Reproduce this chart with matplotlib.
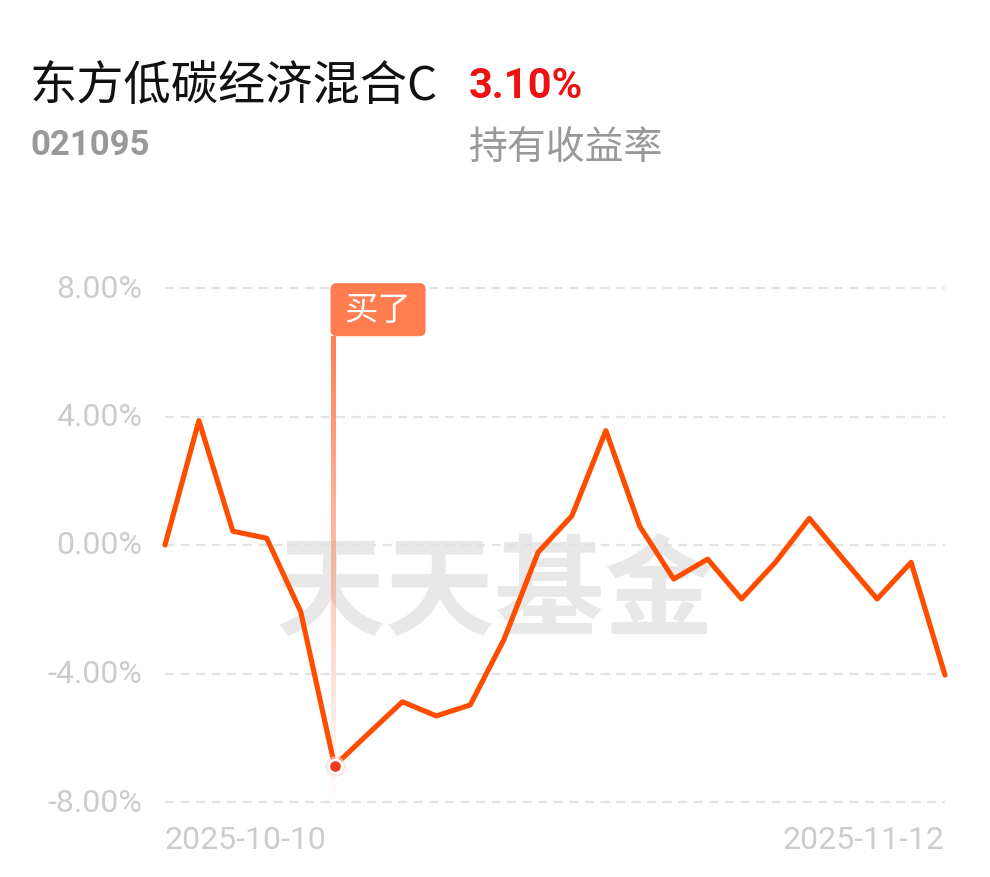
import numpy as np
import matplotlib
matplotlib.use("Agg")
import matplotlib.pyplot as plt
from matplotlib.patches import FancyBboxPatch
from matplotlib.transforms import IdentityTransform

# ---- data ----
fund_name = "东方低碳经济混合C"
fund_code = "021095"
holding_return = "3.10%"
holding_label = "持有收益率"
returns = [0.00, 3.87, 0.43, 0.21, -2.07, -6.87, -5.87, -4.88, -5.32, -4.98,
           -2.93, -0.23, 0.91, 3.56, 0.58, -1.06, -0.44, -1.68, -0.54, 0.83,
           -0.44, -1.68, -0.54, -4.05]
y_ticks = [-8, -4, 0, 4, 8]
y_tick_labels = ["-8.00%", "-4.00%", "0.00%", "4.00%", "8.00%"]
date_labels = ["2025-10-10", "2025-11-12"]
buy_index = 5
buy_label = "买了"
watermark = "天天基金"

W, H, DPI = 990, 878, 100
fig = plt.figure(figsize=(W / DPI, H / DPI), dpi=DPI)
fig.patch.set_facecolor("white")

CJK = ["Noto Sans CJK SC", "DejaVu Sans"]
NUM = ["Roboto", "DejaVu Sans"]

ax = fig.add_axes([165 / W, 1 - 803 / H, (945 - 165) / W, (803 - 289) / H])
x = np.arange(len(returns))
ax.set_xlim(0, len(returns) - 1)
ax.set_ylim(-8, 8)
for s in ax.spines.values():
    s.set_visible(False)
ax.set_xticks([])
ax.set_yticks([])

# grid
for t in y_ticks:
    ax.axhline(t, color="#e3e3e3", lw=1.6, ls=(0, (4, 3)), zorder=1, clip_on=False)
for t, lab in zip(y_ticks, y_tick_labels):
    ax.text(-23 / 33.9, t, lab, ha="right", va="center", fontsize=23,
            family=NUM, color="#cccccc")

# watermark
ax.text(0.424, 0.404, watermark, transform=ax.transAxes, ha="center", va="center",
        fontsize=79, family=CJK, fontweight="black", color="#e8e8e8", zorder=0)

# buy vertical gradient line
top_v, bot_v = 6.5, -7.8
n = 256
grad = np.zeros((n, 1, 4))
base = np.array([255, 125, 80]) / 255.0
alpha = np.linspace(1.0, 0.05, n) ** 1.2
grad[:, 0, :3] = base
grad[:, 0, 3] = alpha
hw = 0.06
ax.imshow(grad, extent=[buy_index - hw - 0.05, buy_index + hw - 0.05, bot_v, top_v],
          aspect="auto", origin="upper", zorder=2, interpolation="bilinear")
ax.set_xlim(0, len(returns) - 1)
ax.set_ylim(-8, 8)

# main line
ax.plot(x, returns, color="#ff4d00", lw=3.7, solid_joinstyle="round",
        solid_capstyle="round", zorder=3, clip_on=False)

# buy dot
ax.scatter([buy_index], [returns[buy_index]], s=220, color="#ffd9d0", alpha=0.6,
           zorder=4, linewidths=0)
ax.scatter([buy_index], [returns[buy_index]], s=90, color="#f03c1e",
           edgecolors="white", linewidths=1.8, zorder=5)

# buy label box
fig.canvas.draw()
px, py = ax.transData.transform((buy_index, top_v))
box_w, box_h = 95, 53
box = FancyBboxPatch((px - 4, py), box_w, box_h,
                     boxstyle="round,pad=0,rounding_size=6",
                     transform=IdentityTransform(), facecolor="#ff7d4f",
                     edgecolor="none", zorder=6, clip_on=False)
fig.add_artist(box)
fig.text((px - 4 + box_w / 2) / W, (py + box_h / 2) / H, buy_label,
         ha="center", va="center", fontsize=24, family=CJK, color="white",
         zorder=7)

# date labels
ax.text(0, -9.17, date_labels[0], ha="left", va="center", fontsize=23,
        family=NUM, color="#cccccc")
ax.text(len(returns) - 1, -9.17, date_labels[1], ha="right", va="center",
        fontsize=23, family=NUM, color="#cccccc")

# header texts
fig.text(30 / W, 1 - 87 / H, fund_name, ha="left", va="center", fontsize=34,
         family=CJK, color="#111111")
fig.text(469 / W, 1 - 87 / H, holding_return, ha="left", va="center", fontsize=30,
         family=NUM, fontweight="bold", color="#ee1111")
fig.text(30 / W, 1 - 146 / H, fund_code, ha="left", va="center", fontsize=25,
         family=NUM, fontweight="bold", color="#999999")
fig.text(469 / W, 1 - 148 / H, holding_label, ha="left", va="center", fontsize=28,
         family=CJK, color="#999999")

fig.savefig("out.png", dpi=DPI, facecolor="white")
